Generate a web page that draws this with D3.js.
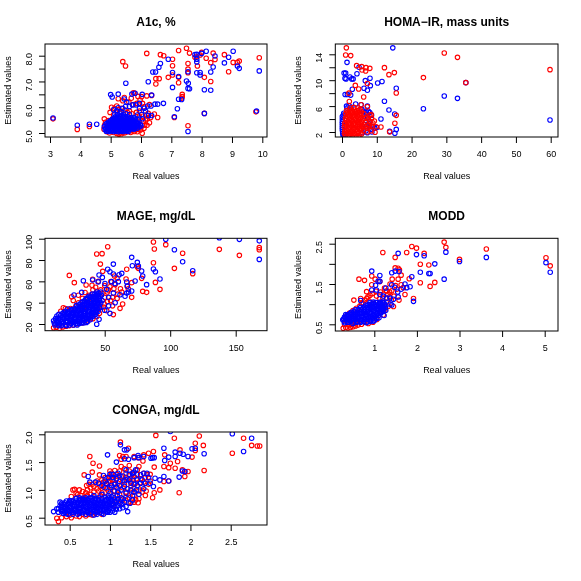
<!DOCTYPE html>
<html>
<head>
<meta charset="utf-8">
<script src="https://cdn.jsdelivr.net/npm/d3@7"></script>
<style>
	html, body { margin: 0; padding: 0; background: #fff; }
	svg { display: block; filter: blur(0.35px); }
	text { font-family: "Liberation Sans", Arial, sans-serif; fill: #000; }
</style>
</head>
<body>
<svg width="581" height="581"></svg>
<script>
// A1c, %
var a1cXTicks = [3, 4, 5, 6, 7, 8, 9, 10];
var a1cYTicks = [5, 5.5, 6, 6.5, 7, 7.5, 8];
var a1cYLabels = ["5.0", "", "6.0", "", "7.0", "", "8.0"];
var a1cRed = [[9.9,7.92],[9.79,5.82],[9.24,7.79],[9.18,7.74],[9.04,7.74],[8.89,7.38],[8.75,8.04],[8.44,7.85],[8.38,8.1],[8.3,7.73],[8.3,7.0],[8.15,7.9],[8.09,7.16],[8.09,5.76],[8.0,8.13],[7.95,8.03],[7.86,7.6],[7.84,7.96],[7.78,7.94],[7.6,8.1],[7.5,8.29],[7.55,7.7],[7.55,7.48],[7.55,7.34],[7.55,5.28],[7.24,8.2],[7.24,7.16],[7.24,6.95],[7.04,7.86],[7.04,7.61],[7.04,7.25],[6.9,7.16],[7.1,5.6],[7.36,6.5],[7.36,6.41],[7.34,6.35],[6.75,8.0],[6.64,8.04],[6.19,8.09],[6.6,7.11],[6.49,7.11],[6.49,6.9],[5.4,7.77],[5.49,7.6],[6.04,4.99],
	[5.25,6.33],[5.45,6.38],[5.75,6.56],[5.8,6.54],[6.02,6.41],[6.19,6.44],[6.35,6.46],[4.98,5.8],[5.03,6.0],[5.2,6.05],[5.36,5.96],[5.47,5.89],[6.24,5.76],[6.44,5.74],[6.55,5.6],[5.97,6.28],[5.86,6.15],[6.1,6.02],[6.19,5.7],[5.75,6.1],[3.9,5.14],[4.3,5.25],[3.1,5.55],[4.79,5.55],
	[4.78,5.15],[4.8,5.3],[4.83,5.42],[4.87,5.05],[4.9,5.2],[4.93,5.48],[4.96,5.0],[5.0,5.12],[5.02,5.32],[5.06,5.55],[5.1,5.02],[5.13,5.2],[5.16,5.4],[5.2,4.98],[5.24,5.1],[5.27,4.95],[5.3,5.3],[5.33,5.55],[5.36,4.97],[5.4,5.02],[5.44,5.2],[5.48,5.42],[5.52,5.04],[5.56,5.1],[5.6,5.3],[5.64,5.08],[5.7,5.18],[5.75,5.12],[5.8,5.32],[5.85,5.2],[5.9,5.14],[5.94,5.42],[6.0,5.2],[6.05,5.3],[6.1,5.18],[6.15,5.5],[6.2,5.3],[6.28,5.4],[6.32,5.6],[5.95,5.62],[5.7,5.75],[6.05,5.65],[5.55,5.8],[5.3,5.8],[5.1,5.7],
	[5.62,5.85],[5.85,5.8],[5.95,5.85],[6.08,5.45],[6.2,5.55],[6.12,5.3],[5.98,5.12],[5.88,5.05],[5.78,5.06],[5.66,5.02],[5.46,5.0],[5.3,5.0],[5.12,5.95],[5.27,5.92],[5.6,6.2],[5.68,6.35],[5.4,6.25],[5.9,6.42],[6.05,6.15],[6.28,6.1]];
var a1cBlue = [[9.9,7.41],[9.81,5.85],[9.24,7.51],[9.18,7.6],[9.04,8.17],[8.89,7.94],[8.75,7.72],[8.44,7.99],[8.38,7.56],[8.3,7.37],[8.3,6.66],[8.15,8.17],[8.09,6.68],[8.09,5.76],[8.0,8.09],[7.95,7.25],[7.95,7.35],[7.84,7.34],[7.84,8.05],[7.78,8.04],[7.84,7.86],[7.84,7.76],[7.6,6.72],[7.55,6.73],[7.56,6.93],[7.5,7.02],[7.55,7.38],[7.55,5.06],[7.24,6.31],[7.24,7.19],[7.34,6.3],[7.2,5.94],[7.04,6.77],[7.04,7.35],[6.9,7.86],[7.1,5.63],[6.64,7.7],[6.59,7.55],[6.39,7.37],[6.48,7.37],[6.24,6.99],[5.5,6.93],[6.74,6.15],[6.35,6.47],[6.04,6.5],[5.8,6.54],[5.7,6.51],[5.25,6.51],[5.0,6.49],[5.05,6.4],[5.45,6.32],[5.53,6.2],[6.55,6.12],[6.46,6.12],[6.33,6.05],[6.22,6.05],[6.11,5.96],[5.95,6.15],[5.83,6.09],[5.72,6.09],[5.62,6.03],[5.49,6.03],[5.1,5.9],[3.9,5.3],[4.3,5.34],[3.1,5.58],[4.54,5.34],[6.25,5.68],[6.35,5.68],[6.15,5.85],[5.95,5.95],[5.4,5.95],[5.25,5.98],
	[4.82,5.13],[4.9,5.09],[4.98,5.14],[5.06,5.1],[5.15,5.13],[5.22,5.08],[5.31,5.12],[5.38,5.1],[5.47,5.14],[5.55,5.1],[5.62,5.14],[5.7,5.2],[5.78,5.16],
	[4.79,5.24],[4.88,5.2],[4.95,5.25],[5.04,5.21],[5.12,5.24],[5.2,5.2],[5.28,5.23],[5.36,5.2],[5.44,5.24],[5.52,5.21],[5.6,5.25],[5.68,5.28],[5.76,5.26],[5.85,5.25],[5.94,5.24],
	[4.84,5.34],[4.92,5.31],[5.0,5.35],[5.08,5.31],[5.16,5.34],[5.24,5.3],[5.32,5.35],[5.4,5.31],[5.48,5.34],[5.56,5.32],[5.64,5.36],[5.72,5.36],[5.8,5.35],[5.88,5.36],[5.98,5.33],
	[4.94,5.43],[5.02,5.41],[5.1,5.45],[5.18,5.42],[5.26,5.44],[5.34,5.41],[5.42,5.45],[5.5,5.42],[5.58,5.45],[5.66,5.44],[5.75,5.46],[5.84,5.43],
	[5.05,5.52],[5.13,5.53],[5.21,5.51],[5.29,5.54],[5.37,5.51],[5.45,5.54],[5.53,5.52],[5.61,5.55],[5.7,5.52],[5.8,5.58],[5.16,5.63],[5.24,5.62],[5.32,5.64],[5.4,5.62],[5.48,5.64],[5.56,5.63],[5.22,5.72],[5.32,5.74],[5.42,5.71],[5.2,5.86],[5.34,5.83],[6.05,5.55],[5.9,5.52],
	[4.86,5.07],[4.94,5.06],[5.02,5.08],[5.1,5.06],[5.18,5.07],[5.26,5.05],[5.34,5.07],[5.42,5.06],[5.5,5.08],[5.58,5.06],
	[4.84,5.18],[4.92,5.16],[5.0,5.18],[5.08,5.16],[5.16,5.18],[5.24,5.16],[5.32,5.18],[5.4,5.16],[5.48,5.18],[5.56,5.16],[5.64,5.18],[5.72,5.16],[5.8,5.18],[5.88,5.19],
	[4.88,5.28],[4.96,5.29],[5.04,5.27],[5.12,5.29],[5.2,5.27],[5.28,5.28],[5.36,5.27],[5.44,5.29],[5.52,5.27],[5.6,5.29],[5.72,5.3],[5.8,5.29],[5.9,5.31],[6.0,5.27],
	[4.88,5.38],[4.96,5.39],[5.04,5.38],[5.12,5.39],[5.2,5.37],[5.28,5.39],[5.36,5.38],[5.44,5.39],[5.52,5.38],[5.6,5.39],[5.68,5.4],[5.76,5.39],[5.84,5.4],[5.92,5.38],
	[5.0,5.48],[5.08,5.49],[5.16,5.47],[5.24,5.49],[5.32,5.47],[5.4,5.49],[5.48,5.47],[5.56,5.49],[5.64,5.48],[5.74,5.5],[5.82,5.51],
	[5.1,5.58],[5.18,5.57],[5.26,5.58],[5.34,5.57],[5.42,5.58],[5.5,5.57],[5.58,5.58],[5.66,5.59],[5.74,5.6],[5.88,5.7],[6.02,5.72],[5.5,5.75],[5.62,5.72],[5.14,5.74]];

// HOMA-IR, mass units
var homaXTicks = [0, 10, 20, 30, 40, 50, 60];
var homaYTicks = [2, 4, 6, 8, 10, 12, 14];
var homaYLabels = ["2", "", "6", "", "10", "", "14"];
var homaRed = [[59.8,11.63],[35.6,9.62],[33.2,13.53],[29.4,14.2],[23.4,10.4],[15.6,8.03],[15.6,4.57],[15.2,3.34],[15.05,11.17],[13.5,10.86],[12.2,11.94],[13.7,2.0],[11.2,2.77],[8,11.83],[6.9,11.94],[6.8,11.42],[5.75,11.58],[5.66,12.1],[4.2,12.25],[7.3,9.5],[4.8,8.64],[3.83,9.2],[6.23,7.4],[2.0,8.0],[2.5,13.8],[1.05,13.9],[1.25,15],[2.1,6.7],[7.3,5.9],[5.5,6.2],[8,4.6],[8.5,4.1],[9.3,3.7],[8,3.6],[7.6,3.1],[9.5,1.95],[8.6,2.9],[7,4.3],[6.7,3.5],[7.2,2.6],[6.2,2.3],[8.3,2.2],[9.8,2.8],[6.3,4.8],[5.9,3.9],
	[1,1.5],[1.8,1.4],[2.6,1.5],[3.4,1.4],[4.2,1.3],[4.9,1.5],[5.6,1.7],
	[0.8,2.1],[1.5,2.2],[2.3,2.1],[3,2.0],[3.8,2.2],[4.5,2.1],[5.3,2.3],
	[0.7,2.8],[1.4,2.9],[2.1,2.7],[2.8,2.9],[3.5,2.7],[4.3,2.9],[5,2.8],[5.8,2.9],
	[0.8,3.4],[1.5,3.5],[2.2,3.4],[3,3.6],[3.7,3.4],[4.4,3.5],[5.2,3.4],[5.6,3.6],
	[1,4.1],[1.7,4.2],[2.4,4.0],[3.2,4.2],[3.9,4.0],[4.6,4.2],[5.4,4.1],
	[1.1,4.8],[1.9,4.7],[2.6,4.9],[3.3,4.7],[4.1,4.9],[4.8,4.7],[5.5,4.9],
	[1.3,5.3],[2.1,5.4],[2.9,5.3],[3.6,5.4],[4.4,5.3],[5.2,5.5],[2.4,5.7],[3.4,5.8],[4.6,5.7],
	[0.7,1.75],[1.4,1.8],[2.1,1.75],[2.9,1.8],[3.6,1.75],[4.4,1.8],[5.2,1.85],
	[1.1,2.45],[1.8,2.5],[2.6,2.45],[3.4,2.5],[4.1,2.45],[4.9,2.5],[5.6,2.5],[6.6,2.8],
	[1,3.15],[1.8,3.2],[2.5,3.15],[3.3,3.2],[4,3.15],[4.8,3.2],[5.5,3.2],[6.4,3.1],
	[1.2,3.8],[2,3.85],[2.8,3.8],[3.5,3.85],[4.3,3.8],[5,3.85],[6.5,4.1],
	[1.4,4.45],[2.2,4.5],[2.9,4.45],[3.6,4.5],[4.4,4.45],[5.2,4.5],
	[1.6,5.05],[2.4,5.1],[3.1,5.05],[3.9,5.1],[4.7,5.05],[5.5,5.2],
	[7.6,4.0],[7.9,2.8],[8.9,3.4],[7.3,2.0],[8.4,4.7]];
var homaBlue = [[59.8,3.85],[33.2,7.2],[29.4,7.56],[23.4,5.6],[35.6,9.62],[14.6,15],[15.6,8.75],[15.6,2.4],[15.2,1.8],[15.15,4.78],[13.7,2.1],[13.5,5.4],[12.2,6.74],[11.5,9.8],[10.25,9.57],[11.2,4.0],[8.05,10.3],[8.15,9.16],[6.7,9.93],[7.3,8.44],[6.33,8.75],[4.3,11.0],[4.9,12.0],[1.44,12.76],[0.6,11.1],[1.05,11.1],[0.85,10.3],[1.15,10.2],[2.3,10.5],[2.8,10.2],[3.2,10.2],[0.9,7.8],[1.55,7.8],[2.5,7.7],[2.97,8.6],[3.93,6.33],[5.5,6.2],[7.3,6.0],[7,5.1],[8,5.0],[8.5,4.6],[8,3.6],[8.9,2.8],[10,2.7],[7.3,1.9],[1.3,6.0],[2,6.1],[1.4,5.7],[2.6,5.8],
	[0.1,4.4],[0.1,3.6],[0.1,3],[0.1,2.4],[0.2,1.8],[0.5,4.9],[0.6,1.5],[6.2,5.2],[6.6,4.4],[7.4,4.3],[7.7,3.3],[8.3,2.4],[6.9,2.2],[5.9,1.9],[6.4,3.2],[7.1,2.9],[8.6,2.0],[9.4,2.6],[7.6,5.2],[5.7,5.5],[0.1,4.0],[0.1,3.3],[0.1,2.7],[0.15,2.1],[0.3,1.5],[0.4,4.6]];

// MAGE, mg/dL
var mageXTicks = [50, 100, 150];
var mageYTicks = [20, 40, 60, 80, 100];
var mageYLabels = ["20", "40", "60", "80", "100"];
var mageRed = [[168,91.6],[168,89.7],[152.8,84.4],[137.5,90],[117.2,67.2],[109.5,86.3],[103.2,72.2],[96.6,94.4],[92.2,52.5],[88.7,59],[87.9,90.3],[87.2,96.9],[87.2,77.5],[82,49.7],[79,50.6],[78.2,62.8],[75.7,72.2],[74.9,73.8],[70.6,58.8],[70.6,45],[66.8,71.3],[66.3,62.2],[68,53],[67.2,55.3],[61.7,34.7],[63.7,38.8],[56.6,28.8],[51.5,32.5],[52.3,92.5],[48,86],[43.9,85.6],[46.7,76.2],[48.5,69.4],[23,65.6],[26.8,58.8],[35.8,56.6],[40.8,61.9],[40.3,56.3],[45.2,60],[43.1,54.4],[18.4,35.3],[24.8,45.6],[29.9,47],[52.8,52],[54.7,59.7],[57.5,65],[59.5,63],[57,53],[62,53],[59.5,44],[54.5,42],[49.5,39],[45.5,34],[50,45],[43,45],[38,43],[35,49.5],[33,44],[30,40],[26,42],
	[11,16.5],[13,17],[15.5,16],[18,17.3],[20.5,18],[23,18.5],[26,19],[29,20],[33,21],[37,22.5],[41,25],[44,27],[12,20],[24,34.5],[20,34.5],[16.5,32],[28,36.5],[33,38],[38,40],[42,39],[46,44],[47,36],[40,30],[36,25],[48,49],[52,50],
	[47,52],[52,41],[56,37],[49,36],[44,50],[38,47],[41,52],[34,36],[46,30],[39,46],[56,45],[60,48],[63,50],[54,55],[58,57],[50,56],[43,31],[37,23]];
var mageBlue = [[168,80.6],[168,98],[152.8,99.4],[137.5,100.9],[117.2,70],[109.5,78.4],[103.2,89.7],[96.6,99.4],[92.2,62.2],[88.7,69],[87.2,71.6],[82,56.9],[79,65],[78.2,69.7],[75.7,74.4],[74.9,77.8],[70.6,82.5],[71.1,74.7],[70.6,51],[66.8,59.4],[67.3,55.6],[73.2,60.3],[68.2,50],[56.6,76.2],[52.3,71.3],[56.6,66.9],[54,69],[63,67.5],[61,66.2],[33.7,60.6],[40.8,61.2],[45.7,65.9],[48.2,63.7],[45,59.5],[50.2,58],[55.3,59.7],[60.4,59.7],[57.8,58],[51.5,52.5],[56.6,49],[61.7,47.5],[66.8,49],[65.5,46],[26.6,47.2],[32.4,49.7],[43.9,19.7],[45.7,24.4],[53,45],[48,42],[44,47],[58,40],[53,37],[50,33],[46,36],[54,30],
	[11.5,21],[13,23.5],[13.5,27.5],[15.5,20],[16,24],[16.5,28],[18.5,21],[19,25],[19.5,29],[20,32],[21.5,21.5],[22,25],[22.5,28.5],[23,32],[24.5,20.5],[25,24],[25.5,27.5],[26,31],[26.5,34],[27.5,22],[28,25.5],[28.5,29],[29,32.5],[29.5,36],[30.5,20.5],[31,24],[31.5,27.5],[32,31],[32.5,34.5],[33,38],[33.5,41],[34,23],[34.5,26.5],[35,30],[35.5,33.5],[36,37],[36.5,40.5],[37,44],[37.5,25],[38,28.5],[38.5,32],[39,35.5],[39.5,39],[40,42.5],[40.5,46],[41,27],[41.5,30.5],[42,34],[42.5,37.5],[43,41],[43.5,44.5],[44,48],[45,32],[45.5,38],[46,42],[46.5,46],[47,50],
	[11,23],[12,19],[12.5,25],[14,21],[14.5,25.5],[15,29],[17,18.5],[17,22],[17.5,26],[18,30],[20,19],[20.5,23],[21,27],[21.5,30.5],[22,34],[23,19],[23.5,23],[24,26.5],[24.5,30],[25,33.5],[26,19],[26.5,22.5],[27,26],[27.5,30],[28,34],[28.5,37.5],[29,19],[29.5,23],[30,26],[30.5,29.5],[31,33],[31.5,36.5],[32,40],[32.5,21.5],[33,25],[33.5,28.5],[34,32],[34.5,35.5],[35,39],[35.5,43],[36,21.5],[36.5,25],[37,28.5],[37.5,32],[38,36],[38.5,41],[39,45],[39.5,26.5],[40,30],[40.5,33.5],[41,37],[41.5,40.5],[42,44],[42.5,48],[43,29],[43.5,33],[44,37],[44.5,40],[44,43],[45,45],[45.5,49]];
var mageBlueFill = [[13,20],[15,18.5],[14.5,23],[17.5,20],[18,24],[18.5,27.5],[19,31],[21,18.5],[21,23],[21.5,26],[22,30],[23.5,27],[24,21],[24.5,33],[25.5,22],[26,29],[27,32],[27,24],[28,20.5],[28.5,27.5],[29,30.5],[30,22],[30,34.5],[30.5,38],[31,25.5],[31.5,30],[32,21],[32.5,27],[32.5,36],[33,33],[34,21],[34,30],[34.5,38],[34.5,41.5],[35,24.5],[35.5,28],[36,35],[36,44],[37,22.5],[37,30.5],[37.5,38.5],[38,26.5],[38,34],[38,46],[39,24],[39,41],[39.5,37],[40,28],[40.5,32],[40.5,48],[41,35],[41,44],[42,29],[42,39],[42.5,46],[43,36],[43.5,31],[43.5,42],[44,50],[44.5,34],[45,40],[45,47],[46,35],[46,44],[47,40],[47.5,47]];

// MODD
var moddXTicks = [1, 2, 3, 4, 5];
var moddYTicks = [0.5, 1, 1.5, 2, 2.5];
var moddYLabels = ["0.5", "", "1.5", "", "2.5"];
var moddRed = [[5.03,2.15],[5.13,1.95],[3.63,2.37],[3.0,2.11],[2.68,2.41],[2.64,2.54],[2.42,1.54],[2.31,1.44],[2.08,1.53],[2.08,1.99],[2.28,1.97],[2.17,2.26],[1.99,2.39],[1.88,2.43],[1.76,2.28],[1.49,2.16],[1.2,2.28],[1.92,1.14],[1.72,1.24],[1.82,1.63],[1.63,1.72],[1.56,1.89],[1.59,1.85],[1.49,1.9],[1.56,1.62],[1.42,1.62],[1.63,1.48],[1.45,0.94],[1.58,1.1],[0.64,1.62],[0.77,1.59],[0.94,1.7],[0.94,1.48],[1.02,1.62],[0.82,1.31],[0.68,1.14],[0.52,1.1],[1.13,1.56],[1.21,1.25],[1.29,1.33],[1.37,1.5],[1.41,1.33],[1.53,1.37],[1.68,1.41],[0.9,1.22],[1.13,1.14],[1.21,0.73],[0.98,1.02],
	[0.27,0.4],[0.33,0.42],[0.38,0.41],[0.44,0.42],[0.5,0.44],[0.56,0.46],[0.62,0.48],[0.3,0.5],[0.36,0.72],[0.42,0.78],[0.5,0.84],[0.58,0.9],[0.66,0.95],[0.74,1.03],[0.82,1.14],[0.88,1.08],[1.05,1.2],[1.12,1.02],[1.2,1.15],[1.28,1.05],[1.36,1.18],[1.33,0.95],[1.18,0.85],[1.26,0.88],[0.86,0.52],[0.97,0.55],[1.06,0.62],
	[0.85,1.18],[0.95,1.26],[1.04,1.32],[1.15,1.3],[1.24,1.4],[1.32,1.24],[1.4,1.1],[1.46,1.2],[1.5,1.46],[1.36,1.3],[0.7,1.02],[0.78,1.1],[0.32,0.6],[0.4,0.48],[0.48,0.5],[0.56,0.53],[0.7,0.5],[0.78,0.55]];
var moddBlue = [[5.03,2.03],[5.13,1.79],[3.63,2.16],[3.0,2.06],[2.68,2.29],[2.64,1.62],[2.42,2.0],[2.28,1.76],[2.31,1.76],[2.08,1.79],[2.17,2.2],[1.99,2.23],[1.88,1.68],[1.92,1.07],[1.56,2.26],[1.41,1.78],[1.49,1.82],[1.58,1.81],[0.94,1.82],[1.13,1.71],[1.09,1.57],[1.13,1.57],[1.03,1.47],[0.94,1.35],[1.05,1.35],[1.27,1.4],[1.41,1.48],[1.72,1.5],[1.63,1.37],[1.84,1.43],[1.76,1.41],[1.56,1.18],[1.45,1.12],[1.37,1.15],[1.29,1.15],[1.13,1.24],[1.21,1.2],[1.41,0.98],[1.37,1.0],[1.17,0.94],[0.68,1.09],[1.48,1.42],[1.55,1.3],
	[0.26,0.61],[0.3,0.54],[0.32,0.67],[0.35,0.6],[0.37,0.73],[0.4,0.55],[0.42,0.66],[0.44,0.77],[0.47,0.6],[0.49,0.71],[0.5,0.52],[0.53,0.8],[0.55,0.64],[0.57,0.74],[0.59,0.55],[0.62,0.67],[0.64,0.84],[0.66,0.77],[0.68,0.58],[0.7,0.7],[0.73,0.9],[0.75,0.82],[0.77,0.62],[0.79,0.74],[0.81,0.54],[0.83,0.96],[0.85,0.88],[0.87,0.67],[0.89,0.8],[0.91,0.57],[0.93,1.0],[0.95,0.92],[0.97,0.72],[0.99,0.84],[1.01,0.6],[1.03,1.04],[1.05,0.95],[1.07,0.76],[1.09,0.87],[1.11,0.66],[1.13,1.02],[1.15,0.92],[1.17,0.8],[1.19,1.05],[1.21,0.88],[1.23,0.72],[1.25,0.98],[1.27,0.85],
	[0.3,0.57],[0.37,0.55],[0.44,0.57],[0.52,0.56],[0.6,0.58],[0.68,0.55],[0.75,0.57],[0.83,0.56],[0.9,0.6],[0.98,0.58],
	[0.28,0.63],[0.34,0.62],[0.42,0.61],[0.48,0.64],[0.56,0.61],[0.63,0.63],[0.7,0.62],[0.78,0.64],[0.85,0.62],[0.92,0.64],[1.0,0.64],[1.06,0.65],
	[0.3,0.68],[0.38,0.69],[0.45,0.68],[0.52,0.69],[0.6,0.68],[0.66,0.7],[0.74,0.68],[0.82,0.69],[0.9,0.7],[0.96,0.68],[1.03,0.7],[1.1,0.72],
	[0.33,0.74],[0.4,0.75],[0.47,0.74],[0.55,0.75],[0.62,0.74],[0.7,0.76],[0.78,0.74],[0.85,0.75],[0.92,0.76],[1.0,0.74],[1.07,0.75],[1.14,0.78],
	[0.46,0.8],[0.52,0.81],[0.6,0.8],[0.68,0.81],[0.76,0.8],[0.84,0.81],[0.9,0.8],[0.97,0.81],[1.04,0.8],[1.12,0.81],[1.2,0.83],
	[0.55,0.86],[0.62,0.87],[0.7,0.86],[0.78,0.87],[0.86,0.86],[0.93,0.87],[1.0,0.86],[1.08,0.87],[1.15,0.86],[1.22,0.87],
	[0.68,0.92],[0.76,0.93],[0.84,0.92],[0.9,0.93],[0.98,0.92],[1.05,0.93],[1.12,0.92],[1.2,0.93],[1.26,0.92],
	[0.8,0.98],[0.88,0.99],[0.95,0.98],[1.02,0.99],[1.1,0.98],[1.16,0.99],[1.24,1.0],[0.9,1.04],[0.98,1.05],[1.06,1.04],[1.14,1.05],[1.22,1.04]];

// CONGA, mg/dL
var congaXTicks = [0.5, 1, 1.5, 2, 2.5];
var congaYTicks = [0.5, 1, 1.5, 2];
var congaYLabels = ["0.5", "1.0", "1.5", "2.0"];
var congaRed = [[2.86,1.79],[2.83,1.79],[2.76,1.8],[2.66,1.93],[2.52,1.66],[2.17,1.35],[2.16,1.8],[2.11,1.97],[2.06,1.84],[2.06,1.71],[2.02,1.59],[1.97,1.33],[1.93,1.24],[1.9,1.36],[1.93,1.33],[1.86,0.95],[1.84,1.51],[1.87,1.72],[1.8,1.93],[1.81,1.39],[1.75,1.48],[1.73,1.4],[1.67,1.42],[1.68,1.63],[1.73,1.16],[1.67,1.15],[1.62,1.0],[1.57,1.98],[1.54,1.69],[1.55,1.41],[1.55,0.95],[1.53,0.86],[1.48,1.66],[1.42,1.63],[1.41,1.52],[1.35,0.77],[1.23,0.77],[1.13,1.86],[1.23,1.75],[1.12,1.62],[0.75,1.6],[0.79,1.48],[0.87,1.43],[0.68,1.27],[0.78,1.32],[0.87,1.27],[0.54,1.0],[0.56,1.01],[0.52,0.88],[0.71,1.08],[0.36,0.43],[0.34,0.49],
	[0.4,0.5],[0.46,0.52],[0.52,0.5],[0.58,0.53],[0.66,0.56],[0.74,0.56],[0.82,0.58],[0.6,0.92],[0.66,0.97],[0.72,1.0],[0.78,1.1],[0.84,1.02],[0.9,1.18],[0.96,1.1],[1.02,1.3],[1.08,1.2],[1.14,1.42],[1.2,1.3],[1.26,1.15],[1.3,1.6],[1.36,1.42],[1.42,1.3],[1.45,0.98],[1.33,1.2],[1.27,0.95],[1.18,1.1],[1.1,1.02],[1.04,0.9],[0.98,0.98],[0.9,0.95],[0.82,0.85],[1.3,0.78],[1.2,0.88],[1.14,0.82],[1.36,0.98],[1.5,1.28],[1.06,1.35],[1.0,1.24],[1.16,1.6],[1.02,0.8],
	[0.62,1.0],[0.7,0.95],[0.76,1.04],[0.8,0.96],[0.86,1.12],[0.88,0.9],[0.92,1.05],[0.94,1.22],[0.98,1.14],[1.0,1.34],[1.02,1.05],[1.04,1.18],[1.06,0.98],[1.08,1.28],[1.1,1.12],[1.12,0.92],[1.14,1.24],[1.16,1.04],[1.18,1.38],[1.2,0.96],[1.22,1.2],[1.24,1.44],[1.26,1.06],[1.28,1.28],[1.3,0.9],[1.32,1.12],[1.34,1.36],[1.38,1.2],[1.4,1.06],[1.44,1.22],[1.48,1.1],[1.1,0.82],[1.16,0.76],[1.04,0.72],[0.94,0.88],[0.86,0.98],[0.76,0.92],[0.68,0.86],[1.35,1.58],[1.2,1.6],[1.14,1.55],[1.24,0.86]];
var congaRedFill = [[0.58,0.94],[0.64,0.9],[0.72,0.9],[0.74,1.1],[0.8,1.06],[0.84,1.16],[0.88,1.06],[0.92,1.14],[0.96,1.02],[1.0,1.16],[1.02,1.22],[1.06,1.12],[1.1,1.24],[1.12,1.34],[1.16,1.16],[1.2,1.22],[1.24,1.34],[1.28,1.18],[1.3,1.04],[1.34,1.28],[1.38,1.12],[1.42,1.14],[1.46,1.28],[1.5,1.16],[1.44,0.9],[1.4,0.96],[1.36,0.84],[1.32,0.82],[1.26,0.78],[0.5,0.55],[0.62,0.52],[0.7,0.53],[0.78,0.55],[0.9,0.56]];
var congaBlue = [[2.76,1.93],[2.66,1.69],[2.52,2.01],[2.17,1.65],[2.06,1.75],[2.02,1.74],[1.97,1.6],[1.93,1.33],[1.9,1.34],[1.86,1.23],[1.91,1.64],[1.87,1.66],[1.81,1.68],[1.81,1.6],[1.75,2.05],[1.73,1.16],[1.67,1.75],[1.67,1.24],[1.68,1.53],[1.73,1.59],[1.62,1.18],[1.55,1.58],[1.53,1.58],[1.51,1.57],[1.42,1.6],[1.35,1.62],[1.36,1.58],[1.3,1.58],[1.23,1.55],[1.18,1.56],[1.18,1.72],[1.13,1.81],[1.21,1.72],[1.08,1.5],[0.97,1.63],[0.73,1.24],[0.75,1.14],[1.22,0.61],[1.54,1.06],[1.5,1.12],[1.56,1.21],[1.46,1.3],[1.42,1.3],[1.38,1.27],[1.32,1.36],[1.3,1.24],[1.26,1.12],[1.22,1.02],[1.16,0.84],[1.0,1.28],[1.04,1.22],[0.98,1.22],[0.86,1.12],[1.12,1.15],[1.2,1.18],[1.08,1.05],[1.3,1.1],
	[0.3,0.61],[0.34,0.66],[0.38,0.78],[0.4,0.68],[0.42,0.58],[0.44,0.74],[0.46,0.63],[0.48,0.56],[0.5,0.7],[0.52,0.8],[0.54,0.6],[0.56,0.72],[0.58,0.84],[0.6,0.56],[0.62,0.66],[0.64,0.76],[0.66,0.59],[0.68,0.82],[0.7,0.7],[0.72,0.6],[0.74,0.77],[0.76,0.86],[0.78,0.64],[0.8,0.55],[0.82,0.72],[0.84,0.6],[0.86,0.8],[0.88,0.68],[0.9,0.58],[0.92,0.75],[0.94,0.64],[0.97,0.6],[0.99,0.72],[1.01,0.83],[1.03,0.62],[1.06,0.7],[1.09,0.9],[1.12,0.66],[1.15,0.74],[1.05,0.98],[1.14,1.0],[1.2,0.94],
	[0.36,0.6],[0.4,0.61],[0.44,0.6],[0.48,0.62],[0.52,0.6],[0.56,0.62],[0.6,0.61],[0.64,0.6],[0.68,0.62],[0.72,0.61],[0.76,0.6],[0.8,0.62],[0.84,0.61],[0.88,0.6],[0.92,0.62],[0.96,0.61],
	[0.36,0.66],[0.4,0.65],[0.44,0.67],[0.48,0.65],[0.52,0.66],[0.56,0.65],[0.6,0.67],[0.64,0.66],[0.68,0.65],[0.72,0.67],[0.76,0.66],[0.8,0.65],[0.84,0.67],[0.88,0.65],[0.92,0.66],[0.96,0.65],[1.0,0.67],[1.04,0.66],[1.08,0.65],
	[0.38,0.71],[0.42,0.7],[0.46,0.72],[0.5,0.7],[0.54,0.71],[0.58,0.7],[0.62,0.72],[0.66,0.7],[0.7,0.71],[0.74,0.7],[0.78,0.72],[0.82,0.7],[0.86,0.71],[0.9,0.7],[0.94,0.72],[0.98,0.7],[1.02,0.72],[1.1,0.72],
	[0.4,0.76],[0.44,0.77],[0.48,0.75],[0.52,0.76],[0.56,0.77],[0.6,0.75],[0.64,0.76],[0.68,0.75],[0.72,0.77],[0.76,0.75],[0.8,0.76],[0.84,0.75],[0.88,0.77],[0.92,0.76],[0.96,0.75],[1.0,0.77],[1.04,0.76],[1.08,0.77],[1.12,0.76],
	[0.46,0.8],[0.5,0.81],[0.54,0.8],[0.58,0.8],[0.62,0.81],[0.66,0.8],[0.7,0.81],[0.74,0.8],[0.78,0.81],[0.82,0.8],[0.86,0.81],[0.9,0.8],[0.94,0.81],[0.98,0.8],[1.02,0.81],[1.06,0.8],
	[0.58,0.85],[0.62,0.86],[0.66,0.85],[0.7,0.86],[0.74,0.85],[0.78,0.86],[0.82,0.85],[0.86,0.86],[0.9,0.85],[0.94,0.86],[0.98,0.85],[1.02,0.88],[0.8,0.9],[0.9,0.92],[1.0,0.94],[1.1,1.3],[1.16,1.25],[1.08,1.2],[1.18,1.06],[1.26,1.0],[1.34,1.08],[1.28,0.9],[1.2,1.36],[1.28,1.3],[1.38,1.12],[1.42,1.02],[0.94,1.16],[1.02,1.08],[1.1,0.96],[1.24,1.28]];
var congaBlueFill = [[0.98,0.9],[1.05,0.86],[1.1,0.84],[1.14,0.86],[1.18,0.78],[1.22,0.84],[1.25,0.76],[1.28,0.82],[1.3,0.96],[1.33,1.0],[1.36,0.92],[1.4,1.18],[1.44,1.12],[1.48,1.22],[1.34,1.18],[1.3,1.32],[1.24,1.18],[1.18,1.16],[1.12,1.08],[1.06,1.1],[1.0,1.04],[0.94,1.04],[0.9,1.08],[0.96,1.12],[1.04,1.28],[1.12,1.26],[0.92,1.26],[0.82,1.14],[1.16,0.68],[1.08,0.8],[1.2,0.7],[0.46,0.57],[0.54,0.56],[0.62,0.58],[0.7,0.56],[0.76,0.57],[0.84,0.56],[0.92,0.56],[1.0,0.6],[1.06,0.6],[0.42,0.63],[0.5,0.63],[0.58,0.64],[0.66,0.63],[0.74,0.64],[0.82,0.63],[0.9,0.64],[0.98,0.63],[0.4,0.73],[0.48,0.74],[0.56,0.74],[0.64,0.73],[0.72,0.74],[0.8,0.73],[0.88,0.74],[0.96,0.73],[1.04,0.74],[0.5,0.78],[0.6,0.78],[0.7,0.78],[0.8,0.78],[0.9,0.78],[1.0,0.79],[0.64,0.83],[0.72,0.83],[0.84,0.83],[0.96,0.83]];

var panels = [
	{title: "A1c, %", box: [45, 44, 267, 137], x: [3, 10, 50, 262.3], y: [5, 8, 133, 55.7],
		xTicks: a1cXTicks, yTicks: a1cYTicks, yLabels: a1cYLabels, first: a1cRed, second: a1cBlue, order: ["red", "blue"]},
	{title: "HOMA\u2212IR, mass units", box: [335.3, 44, 558, 137], x: [0, 60, 342, 550.7], y: [2, 14, 132, 54.3],
		xTicks: homaXTicks, yTicks: homaYTicks, yLabels: homaYLabels, first: homaBlue, second: homaRed, order: ["blue", "red"]},
	{title: "MAGE, mg/dL", box: [45, 238.3, 267, 330.7], x: [50, 150, 104.7, 235.7], y: [20, 100, 324, 238.7],
		xTicks: mageXTicks, yTicks: mageYTicks, yLabels: mageYLabels, first: mageRed, second: mageBlue.concat(mageBlueFill), order: ["red", "blue"]},
	{title: "MODD", box: [335.3, 238.3, 558, 331], x: [1, 5, 374.3, 544.7], y: [0.5, 2.5, 324.3, 243.7],
		xTicks: moddXTicks, yTicks: moddYTicks, yLabels: moddYLabels, first: moddRed, second: moddBlue, order: ["red", "blue"]},
	{title: "CONGA, mg/dL", box: [45, 432, 267, 525], x: [0.5, 2.5, 69.7, 230.7], y: [0.5, 2, 517.7, 434.3],
		xTicks: congaXTicks, yTicks: congaYTicks, yLabels: congaYLabels, first: congaRed.concat(congaRedFill), second: congaBlue.concat(congaBlueFill), order: ["red", "blue"]}
];

function drawPanel(svg, p, i) {
	var x = d3.scaleLinear().domain([p.x[0], p.x[1]]).range([p.x[2], p.x[3]]);
	var y = d3.scaleLinear().domain([p.y[0], p.y[1]]).range([p.y[2], p.y[3]]);
	var left = p.box[0], top = p.box[1], right = p.box[2], bottom = p.box[3];
	var midX = (left + right) / 2, midY = (top + bottom) / 2;

	svg.append("clipPath").attr("id", "clip" + i)
		.append("rect")
		.attr("x", left).attr("y", top)
		.attr("width", right - left).attr("height", bottom - top);

	var grp = svg.append("g").attr("clip-path", "url(#clip" + i + ")");
	[p.first, p.second].forEach(function(pts, k) {
		grp.append("g").selectAll("circle").data(pts)
			.enter().append("circle")
			.attr("cx", d => x(d[0]))
			.attr("cy", d => y(d[1]))
			.attr("r", 2.25)
			.style("fill", "none")
			.style("stroke", p.order[k] == "red" ? "#ff0000" : "#0000ff")
			.style("stroke-width", 1.1);
	});

	svg.append("rect")
		.attr("x", left).attr("y", top)
		.attr("width", right - left).attr("height", bottom - top)
		.style("fill", "none").style("stroke", "#000").style("stroke-width", 1);

	var xAxis = svg.append("g")
		.attr("transform", "translate(0," + bottom + ")")
		.call(d3.axisBottom(x).tickValues(p.xTicks).tickSize(6).tickPadding(8).tickFormat(d => d));
	var yAxis = svg.append("g")
		.attr("transform", "translate(" + left + ",0)")
		.call(d3.axisLeft(y).tickValues(p.yTicks).tickSize(6).tickFormat((d, j) => p.yLabels[j]));
	xAxis.select(".domain").remove();
	yAxis.select(".domain").remove();
	xAxis.selectAll("text").style("font-size", "9px").style("font-family", null);
	yAxis.selectAll("text")
		.style("font-size", "9px")
		.attr("text-anchor", "middle")
		.attr("x", 0).attr("dy", 0)
		.attr("transform", "translate(-13,3) rotate(-90)");

	svg.append("text")
		.attr("x", midX).attr("y", top - 18)
		.attr("text-anchor", "middle")
		.style("font-size", "12px").style("font-weight", "bold")
		.text(p.title);
	svg.append("text")
		.attr("x", midX).attr("y", bottom + 42)
		.attr("text-anchor", "middle")
		.style("font-size", "9px")
		.text("Real values");
	svg.append("text")
		.attr("transform", "translate(" + (left - 34.5) + "," + midY + ") rotate(-90)")
		.attr("text-anchor", "middle")
		.style("font-size", "9px")
		.text("Estimated values");
}

function drawPlot() {
	var svg = d3.select("svg");
	panels.forEach(function(p, i) { drawPanel(svg, p, i); });
}
drawPlot();
</script>
</body>
</html>
